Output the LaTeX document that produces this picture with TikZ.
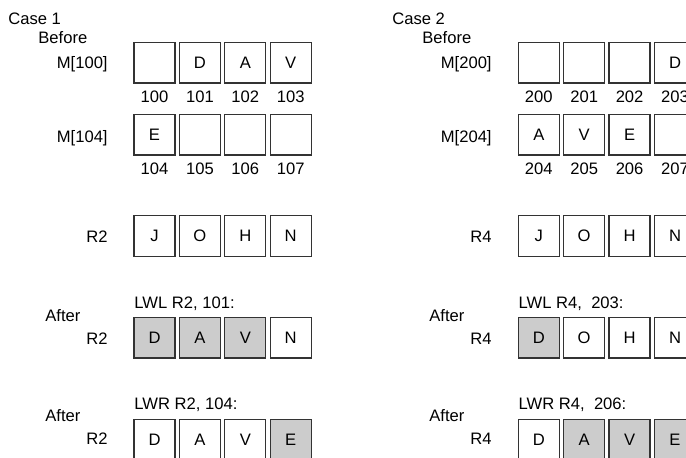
\documentclass[tikz,border=0pt]{standalone}
\usepackage{fontspec}
\setmainfont{Liberation Sans}
\usetikzlibrary{positioning}

\begin{document}
\begin{tikzpicture}[x=0.5pt, y=-0.5pt,
    cell/.style={draw=black!80, line width=0.65pt, minimum width=20.5pt, minimum height=20.2pt, inner sep=0pt, font=\fontsize{8.3}{10}\selectfont},
    hit/.style={cell, fill=black!20},
    txt/.style={inner sep=0pt, font=\fontsize{8.3}{10}\selectfont},
    rlbl/.style={txt, anchor=base east},
    llbl/.style={txt, anchor=base west},
    addr/.style={txt, anchor=base}
]
\useasboundingbox (0,0) rectangle (686,457);
\clip (0,0) rectangle (686,457);

% Case 1
\node[llbl] (caseA) at (8,24.3) {Case 1};
\node[llbl] (beforeA) at (38,43.3) {Before};
\node[rlbl] (mA0) at (108,68) {M[100]};
\foreach \i/\t/\n in {0//100,1/D/101,2/A/102,3/V/103} {
  \node[cell] (a0\i) at (154.5+45.4*\i,62.7) {\t};
  \node[addr] (na0\i) at (154.5+45.4*\i,102.5) {\n};
}
\node[rlbl] (mA1) at (108,142.7) {M[104]};
\foreach \i/\t/\n in {0/E/104,1//105,2//106,3//107} {
  \node[cell] (a1\i) at (154.5+45.4*\i,134.7) {\t};
  \node[addr] (na1\i) at (154.5+45.4*\i,174.5) {\n};
}
\node[rlbl] (rA) at (108,242) {R2};
\foreach \i/\t in {0/J,1/O,2/H,3/N}
  \node[cell] (ra\i) at (154.5+45.4*\i,236) {\t};

\node[llbl] (afterA1) at (45,321) {After};
\node[rlbl] (rA1) at (108,344) {R2};
\node[llbl] (lwlA) at (134,308.7) {LWL R2, 101:};
\foreach \i/\t/\s in {0/D/hit,1/A/hit,2/V/hit,3/N/cell}
  \node[\s] (la\i) at (154.5+45.4*\i,337.8) {\t};

\node[llbl] (afterA2) at (45,421) {After};
\node[rlbl] (rA2) at (108,444.3) {R2};
\node[llbl] (lwrA) at (134,409.3) {LWR R2, 104:};
\foreach \i/\t/\s in {0/D/cell,1/A/cell,2/V/cell,3/E/hit}
  \node[\s] (wa\i) at (154.5+45.4*\i,439.5) {\t};

% Case 2
\node[llbl] (caseB) at (392,24.3) {Case 2};
\node[llbl] (beforeB) at (422,43.3) {Before};
\node[rlbl] (mB0) at (492,68) {M[200]};
\foreach \i/\t/\n in {0//200,1//201,2//202,3/D/203} {
  \node[cell] (b0\i) at (538.8+45.4*\i,62.7) {\t};
  \node[addr] (nb0\i) at (538.8+45.4*\i,102.5) {\n};
}
\node[rlbl] (mB1) at (492,142.7) {M[204]};
\foreach \i/\t/\n in {0/A/204,1/V/205,2/E/206,3//207} {
  \node[cell] (b1\i) at (538.8+45.4*\i,134.7) {\t};
  \node[addr] (nb1\i) at (538.8+45.4*\i,174.5) {\n};
}
\node[rlbl] (rB) at (492,242) {R4};
\foreach \i/\t in {0/J,1/O,2/H,3/N}
  \node[cell] (rb\i) at (538.8+45.4*\i,236) {\t};

\node[llbl] (afterB1) at (429,321) {After};
\node[rlbl] (rB1) at (492,344) {R4};
\node[llbl] (lwlB) at (518.3,308.7) {LWL R4,~~203:};
\foreach \i/\t/\s in {0/D/hit,1/O/cell,2/H/cell,3/N/cell}
  \node[\s] (lb\i) at (538.8+45.4*\i,337.8) {\t};

\node[llbl] (afterB2) at (429,421) {After};
\node[rlbl] (rB2) at (492,444.3) {R4};
\node[llbl] (lwrB) at (518.3,409.3) {LWR R4,~~206:};
\foreach \i/\t/\s in {0/D/cell,1/A/hit,2/V/hit,3/E/hit}
  \node[\s] (wb\i) at (538.8+45.4*\i,439.5) {\t};
\end{tikzpicture}
\end{document}
